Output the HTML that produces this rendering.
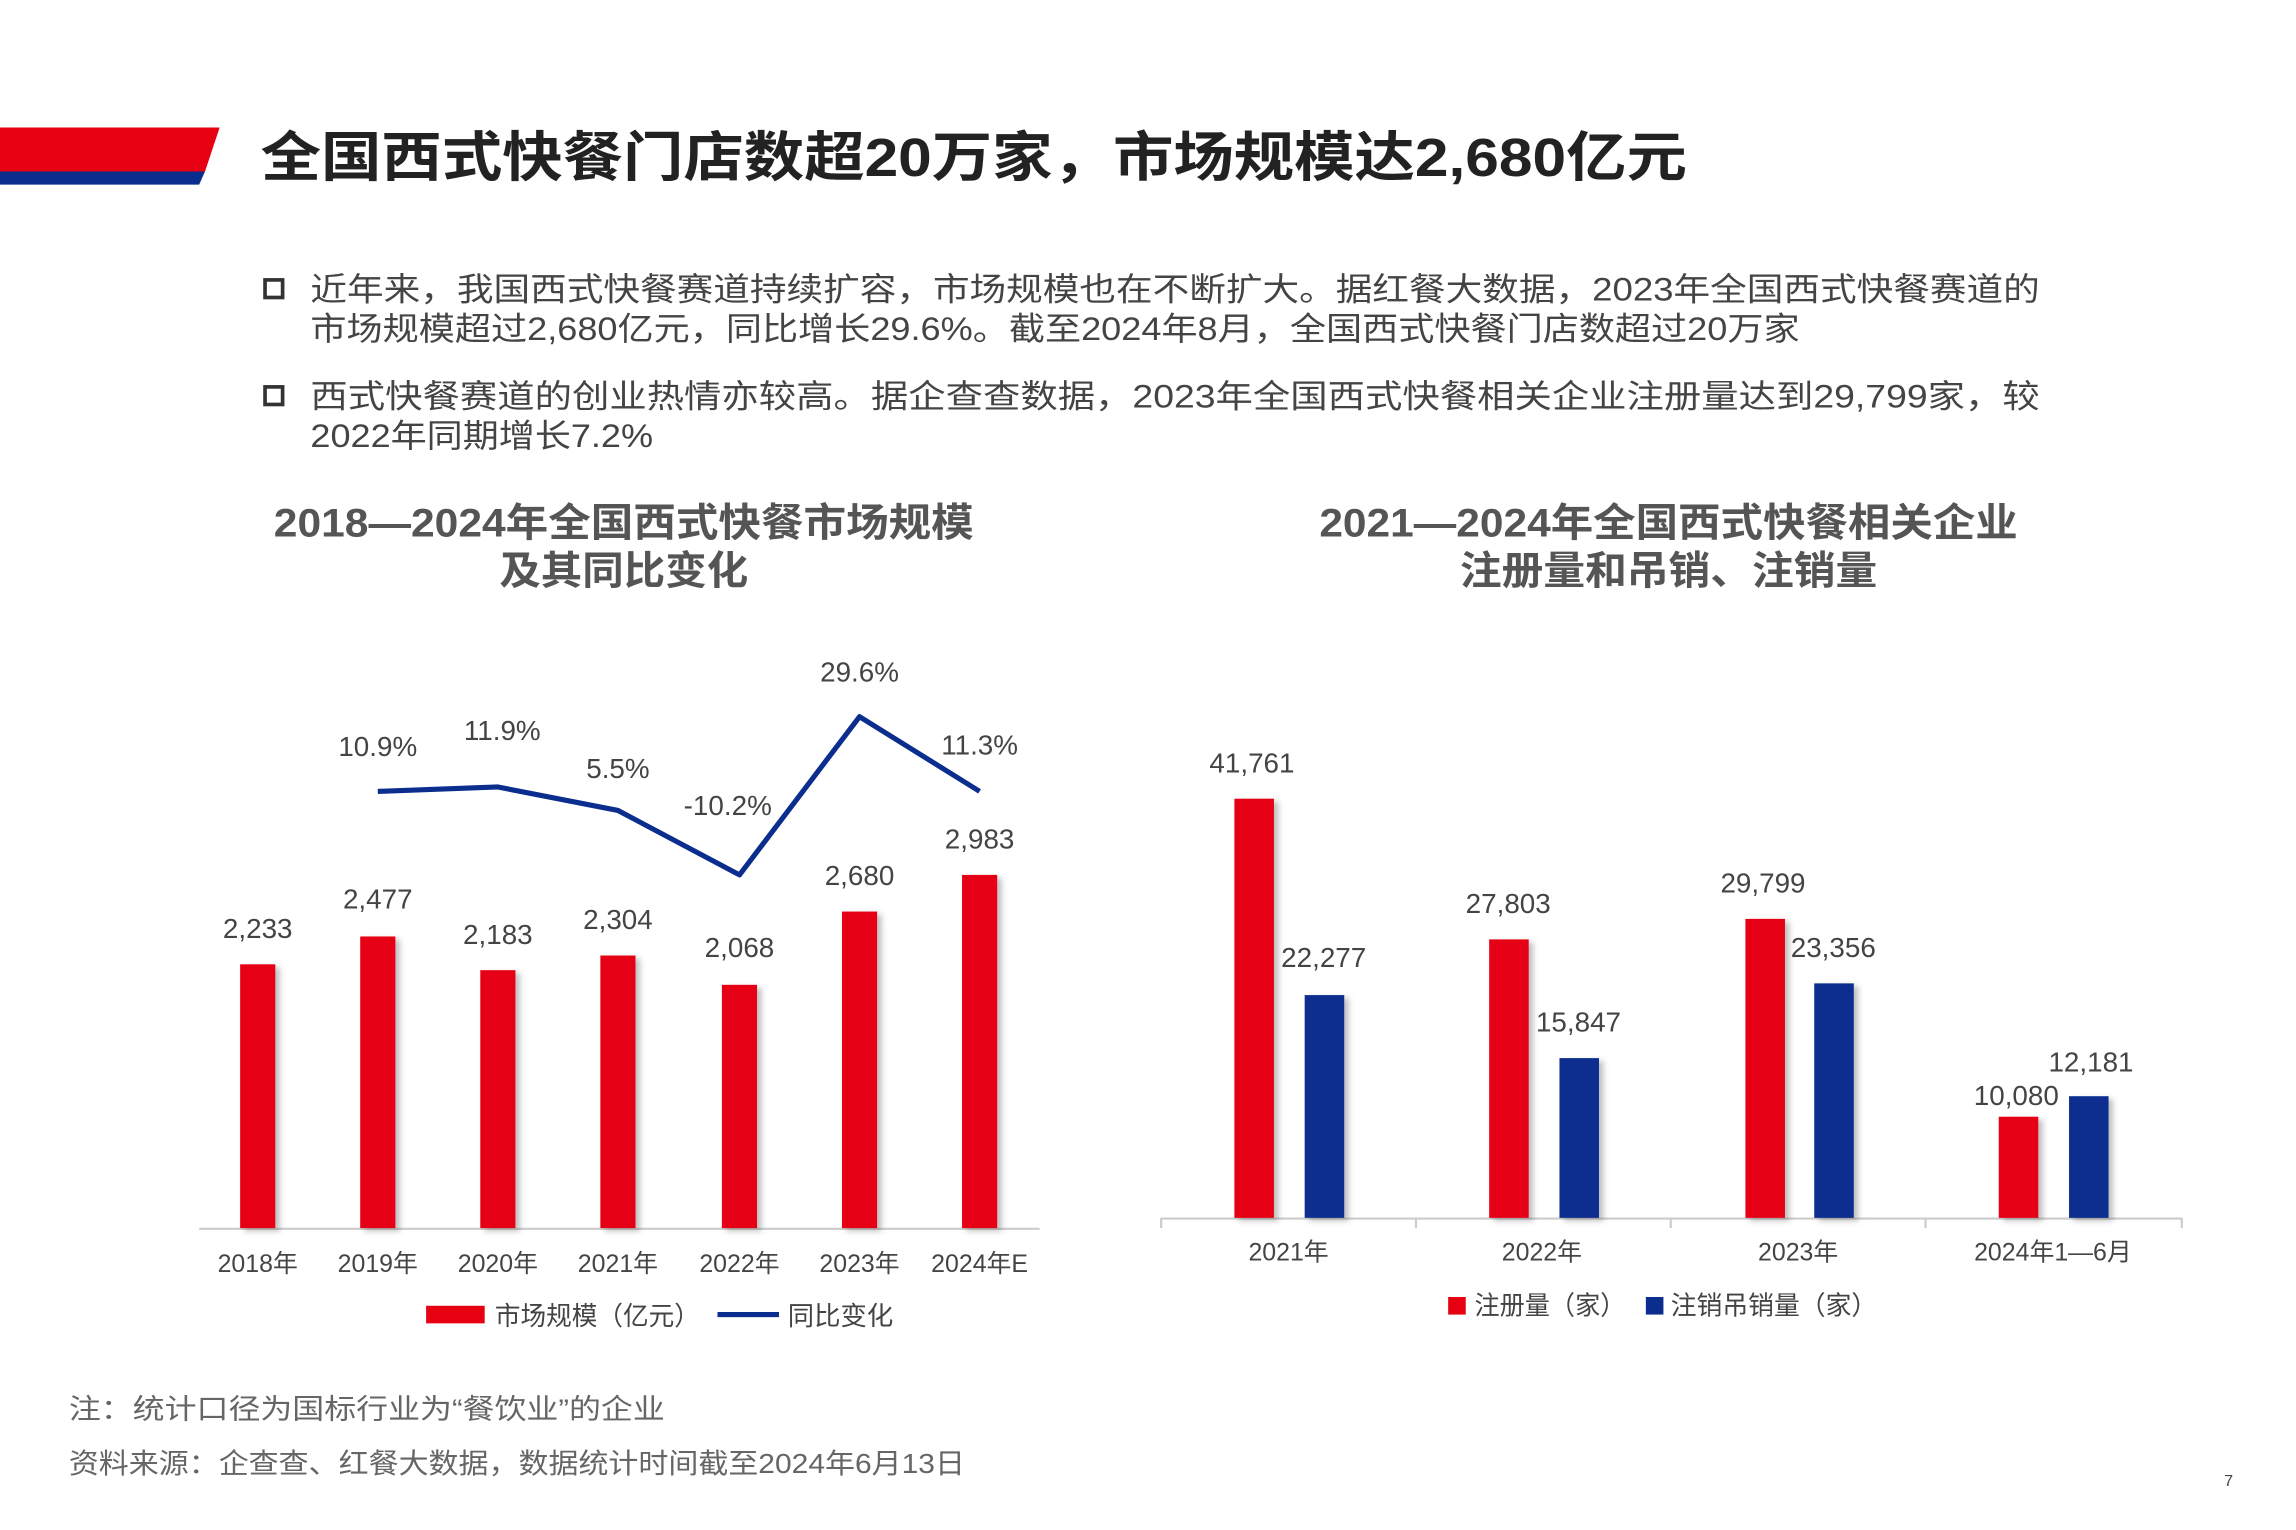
<!DOCTYPE html>
<html><head><meta charset="utf-8"><style>
html,body{margin:0;padding:0;background:#fff;}
svg{display:block;}
text{font-family:"Liberation Sans","Noto Sans CJK SC",sans-serif;}
</style></head><body>
<svg width="2296" height="1530" viewBox="0 0 1568 1044" preserveAspectRatio="none" xmlns="http://www.w3.org/2000/svg">
<defs><filter id="sh" x="-30%" y="-10%" width="160%" height="120%"><feDropShadow dx="3" dy="2" stdDeviation="2" flood-color="#000" flood-opacity="0.25"/></filter></defs>
<rect width="1568" height="1044" fill="#fff"/>
<polygon points="0,87 150,87 140,117 0,117" fill="#e60012"/>
<polygon points="0,117 140,117 136,126 0,126" fill="#0b2d8e"/>
<text x="178" y="120" font-size="37" font-weight="bold" fill="#222" textLength="974" lengthAdjust="spacingAndGlyphs">全国西式快餐门店数超20万家，市场规模达2,680亿元</text>
<g fill="none" stroke="#333" stroke-width="2.5"><rect x="181" y="191" width="12" height="12"/><rect x="181" y="264" width="12" height="12"/></g>
<g font-size="22" fill="#444">
<text x="212" y="205" textLength="1181" lengthAdjust="spacingAndGlyphs">近年来，我国西式快餐赛道持续扩容，市场规模也在不断扩大。据红餐大数据，2023年全国西式快餐赛道的</text>
<text x="212" y="232" textLength="1017" lengthAdjust="spacingAndGlyphs">市场规模超过2,680亿元，同比增长29.6%。截至2024年8月，全国西式快餐门店数超过20万家</text>
<text x="212" y="278" textLength="1181" lengthAdjust="spacingAndGlyphs">西式快餐赛道的创业热情亦较高。据企查查数据，2023年全国西式快餐相关企业注册量达到29,799家，较</text>
<text x="212" y="305" textLength="234" lengthAdjust="spacingAndGlyphs">2022年同期增长7.2%</text>
</g>
<g font-size="27" font-weight="bold" fill="#555">
<text x="187" y="366" textLength="478" lengthAdjust="spacingAndGlyphs">2018—2024年全国西式快餐市场规模</text>
<text x="341" y="399" textLength="170" lengthAdjust="spacingAndGlyphs">及其同比变化</text>
<text x="901" y="366" textLength="477" lengthAdjust="spacingAndGlyphs">2021—2024年全国西式快餐相关企业</text>
<text x="997" y="399" textLength="285" lengthAdjust="spacingAndGlyphs">注册量和吊销、注销量</text>
</g>
<line x1="136" y1="838.5" x2="710" y2="838.5" stroke="#ccc" stroke-width="1.5"/>
<g fill="#e60012" filter="url(#sh)">
<rect x="164" y="658" width="24" height="180"/>
<rect x="246" y="639" width="24" height="199"/>
<rect x="328" y="662" width="24" height="176"/>
<rect x="410" y="652" width="24" height="186"/>
<rect x="493" y="672" width="24" height="166"/>
<rect x="575" y="622" width="24" height="216"/>
<rect x="657" y="597" width="24" height="241"/>
</g>
<polyline points="258,540 340,537 422,553 505,597 587,489 669,540" fill="none" stroke="#0b2d8e" stroke-width="3.5" stroke-linejoin="round"/>
<g font-size="19" fill="#444" text-anchor="middle">
<text x="176" y="640">2,233</text><text x="258" y="620">2,477</text><text x="340" y="644">2,183</text><text x="422" y="634">2,304</text><text x="505" y="653">2,068</text><text x="587" y="604">2,680</text><text x="669" y="579">2,983</text>
<text x="258" y="516">10.9%</text><text x="343" y="505">11.9%</text><text x="422" y="531">5.5%</text><text x="497" y="556">-10.2%</text><text x="587" y="465">29.6%</text><text x="669" y="515">11.3%</text>
</g>
<g font-size="17" fill="#444" text-anchor="middle">
<text x="176" y="868">2018年</text><text x="258" y="868">2019年</text><text x="340" y="868">2020年</text><text x="422" y="868">2021年</text><text x="505" y="868">2022年</text><text x="587" y="868">2023年</text><text x="669" y="868">2024年E</text>
</g>
<rect x="291" y="891" width="40" height="12" fill="#e60012"/>
<text x="338" y="904" font-size="18" fill="#444" textLength="140" lengthAdjust="spacingAndGlyphs">市场规模（亿元）</text>
<line x1="490" y1="897" x2="532" y2="897" stroke="#0b2d8e" stroke-width="3.5"/>
<text x="538" y="904" font-size="18" fill="#444" textLength="72" lengthAdjust="spacingAndGlyphs">同比变化</text>
<line x1="793" y1="831.5" x2="1490" y2="831.5" stroke="#ccc" stroke-width="1.5"/>
<g stroke="#ccc" stroke-width="1.5"><line x1="793" y1="831" x2="793" y2="838"/><line x1="967" y1="831" x2="967" y2="838"/><line x1="1141" y1="831" x2="1141" y2="838"/><line x1="1315" y1="831" x2="1315" y2="838"/><line x1="1490" y1="831" x2="1490" y2="838"/></g>
<g filter="url(#sh)">
<rect x="843" y="545" width="27" height="286" fill="#e60012"/>
<rect x="1017" y="641" width="27" height="190" fill="#e60012"/>
<rect x="1192" y="627" width="27" height="204" fill="#e60012"/>
<rect x="1365" y="762" width="27" height="69" fill="#e60012"/>
<rect x="891" y="679" width="27" height="152" fill="#0b2d8e"/>
<rect x="1065" y="722" width="27" height="109" fill="#0b2d8e"/>
<rect x="1239" y="671" width="27" height="160" fill="#0b2d8e"/>
<rect x="1413" y="748" width="27" height="83" fill="#0b2d8e"/>
</g>
<g font-size="19" fill="#444" text-anchor="middle">
<text x="855" y="527">41,761</text><text x="904" y="660">22,277</text><text x="1030" y="623">27,803</text><text x="1078" y="704">15,847</text><text x="1204" y="609">29,799</text><text x="1252" y="653">23,356</text><text x="1377" y="754">10,080</text><text x="1428" y="731">12,181</text>
</g>
<g font-size="17" fill="#444" text-anchor="middle">
<text x="880" y="860">2021年</text><text x="1053" y="860">2022年</text><text x="1228" y="860">2023年</text><text x="1402" y="860">2024年1—6月</text>
</g>
<rect x="989" y="885" width="12" height="12" fill="#e60012"/>
<text x="1007" y="897" font-size="18" fill="#444" textLength="103" lengthAdjust="spacingAndGlyphs">注册量（家）</text>
<rect x="1124" y="885" width="12" height="12" fill="#0b2d8e"/>
<text x="1141" y="897" font-size="18" fill="#444" textLength="141" lengthAdjust="spacingAndGlyphs">注销吊销量（家）</text>
<g font-size="19" fill="#666">
<text x="47" y="968" textLength="407" lengthAdjust="spacingAndGlyphs">注：统计口径为国标行业为“餐饮业”的企业</text>
<text x="47" y="1005" textLength="612" lengthAdjust="spacingAndGlyphs">资料来源：企查查、红餐大数据，数据统计时间截至2024年6月13日</text>
</g>
<text x="1522" y="1014" font-size="11" fill="#444" text-anchor="middle">7</text>
</svg>
</body></html>
